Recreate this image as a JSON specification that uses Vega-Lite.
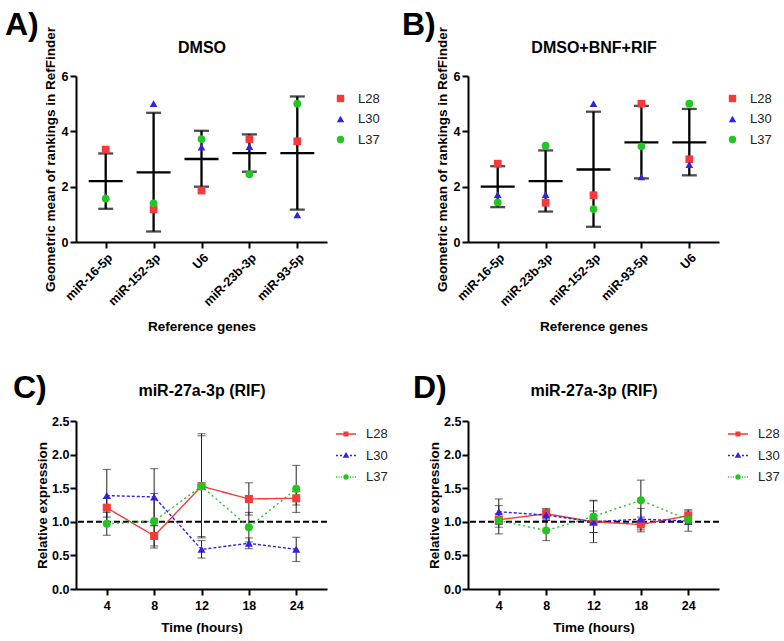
{
  "$schema": "https://vega.github.io/schema/vega-lite/v6.json",
  "padding": {"left": 5, "top": 8, "right": 0, "bottom": 0},
  "config": {
    "font": "Liberation Sans",
    "view": {"stroke": null},
    "axis": {"domainColor": "black", "domainWidth": 2, "tickColor": "black", "tickWidth": 2, "tickSize": 6, "labelColor": "black", "labelFont": "Liberation Sans", "labelFontWeight": "bold", "labelFontSize": 12.5, "labelPadding": 2, "titleColor": "black", "titleFont": "Liberation Sans", "titleFontWeight": "bold", "titleFontSize": 13.5, "grid": false, "labelOverlap": false},
    "legend": {"labelFont": "Liberation Sans", "labelFontSize": 13, "labelColor": "#222", "labelFontWeight": "normal"},
    "title": {"font": "Liberation Sans", "fontWeight": "bold", "fontSize": 32, "color": "black", "anchor": "start", "frame": "group"}
  },
  "datasets": {
    "a_sum": [
      {"gene": "miR-16-5p", "mean": 2.2, "lo": 1.2, "hi": 3.2},
      {"gene": "miR-152-3p", "mean": 2.52, "lo": 0.38, "hi": 4.67},
      {"gene": "U6", "mean": 3.0, "lo": 2.0, "hi": 4.02},
      {"gene": "miR-23b-3p", "mean": 3.21, "lo": 2.54, "hi": 3.89},
      {"gene": "miR-93-5p", "mean": 3.21, "lo": 1.17, "hi": 5.26}
    ],
    "a_pts": [
      {"gene": "miR-16-5p", "series": "L28", "value": 3.34},
      {"gene": "miR-16-5p", "series": "L30", "value": 1.65},
      {"gene": "miR-16-5p", "series": "L37", "value": 1.57},
      {"gene": "miR-152-3p", "series": "L28", "value": 1.18},
      {"gene": "miR-152-3p", "series": "L30", "value": 5.0},
      {"gene": "miR-152-3p", "series": "L37", "value": 1.4},
      {"gene": "U6", "series": "L28", "value": 1.86},
      {"gene": "U6", "series": "L30", "value": 3.43},
      {"gene": "U6", "series": "L37", "value": 3.72},
      {"gene": "miR-23b-3p", "series": "L28", "value": 3.72},
      {"gene": "miR-23b-3p", "series": "L30", "value": 3.45},
      {"gene": "miR-23b-3p", "series": "L37", "value": 2.45},
      {"gene": "miR-93-5p", "series": "L28", "value": 3.64},
      {"gene": "miR-93-5p", "series": "L30", "value": 0.98},
      {"gene": "miR-93-5p", "series": "L37", "value": 5.0}
    ],
    "b_sum": [
      {"gene": "miR-16-5p", "mean": 2.0, "lo": 1.26, "hi": 2.74},
      {"gene": "miR-23b-3p", "mean": 2.2, "lo": 1.1, "hi": 3.31},
      {"gene": "miR-152-3p", "mean": 2.62, "lo": 0.55, "hi": 4.71},
      {"gene": "miR-93-5p", "mean": 3.6, "lo": 2.3, "hi": 4.92},
      {"gene": "U6", "mean": 3.6, "lo": 2.41, "hi": 4.81}
    ],
    "b_pts": [
      {"gene": "miR-16-5p", "series": "L28", "value": 2.83},
      {"gene": "miR-16-5p", "series": "L30", "value": 1.71},
      {"gene": "miR-16-5p", "series": "L37", "value": 1.43},
      {"gene": "miR-23b-3p", "series": "L28", "value": 1.42},
      {"gene": "miR-23b-3p", "series": "L30", "value": 1.71},
      {"gene": "miR-23b-3p", "series": "L37", "value": 3.48},
      {"gene": "miR-152-3p", "series": "L28", "value": 1.69},
      {"gene": "miR-152-3p", "series": "L30", "value": 5.0},
      {"gene": "miR-152-3p", "series": "L37", "value": 1.19},
      {"gene": "miR-93-5p", "series": "L28", "value": 5.0},
      {"gene": "miR-93-5p", "series": "L30", "value": 2.35},
      {"gene": "miR-93-5p", "series": "L37", "value": 3.46},
      {"gene": "U6", "series": "L28", "value": 2.99},
      {"gene": "U6", "series": "L30", "value": 2.8},
      {"gene": "U6", "series": "L37", "value": 5.0}
    ],
    "c": [
      {"time": 4, "series": "L28", "value": 1.21, "lo": 1.07, "hi": 1.35},
      {"time": 4, "series": "L30", "value": 1.39, "lo": 1.0, "hi": 1.78},
      {"time": 4, "series": "L37", "value": 0.97, "lo": 0.8, "hi": 1.14},
      {"time": 8, "series": "L28", "value": 0.79, "lo": 0.64, "hi": 0.94},
      {"time": 8, "series": "L30", "value": 1.37, "lo": 0.95, "hi": 1.79},
      {"time": 8, "series": "L37", "value": 1.01, "lo": 0.61, "hi": 1.42},
      {"time": 12, "series": "L28", "value": 1.53, "lo": 0.76, "hi": 2.31},
      {"time": 12, "series": "L30", "value": 0.59, "lo": 0.46, "hi": 0.72},
      {"time": 12, "series": "L37", "value": 1.53, "lo": 0.78, "hi": 2.28},
      {"time": 18, "series": "L28", "value": 1.34, "lo": 1.1, "hi": 1.58},
      {"time": 18, "series": "L30", "value": 0.68, "lo": 0.6, "hi": 0.76},
      {"time": 18, "series": "L37", "value": 0.92, "lo": 0.7, "hi": 1.14},
      {"time": 24, "series": "L28", "value": 1.35, "lo": 1.25, "hi": 1.45},
      {"time": 24, "series": "L30", "value": 0.59, "lo": 0.41, "hi": 0.77},
      {"time": 24, "series": "L37", "value": 1.49, "lo": 1.14, "hi": 1.84}
    ],
    "d": [
      {"time": 4, "series": "L28", "value": 1.03, "lo": 0.82, "hi": 1.24},
      {"time": 4, "series": "L30", "value": 1.15, "lo": 0.96, "hi": 1.34},
      {"time": 4, "series": "L37", "value": 1.02, "lo": 0.92, "hi": 1.12},
      {"time": 8, "series": "L28", "value": 1.12, "lo": 1.04, "hi": 1.2},
      {"time": 8, "series": "L30", "value": 1.1, "lo": 1.02, "hi": 1.18},
      {"time": 8, "series": "L37", "value": 0.87, "lo": 0.72, "hi": 1.02},
      {"time": 12, "series": "L28", "value": 1.0, "lo": 0.69, "hi": 1.31},
      {"time": 12, "series": "L30", "value": 1.0, "lo": 0.84, "hi": 1.16},
      {"time": 12, "series": "L37", "value": 1.08, "lo": 0.84, "hi": 1.32},
      {"time": 18, "series": "L28", "value": 0.96, "lo": 0.85, "hi": 1.07},
      {"time": 18, "series": "L30", "value": 1.04, "lo": 0.88, "hi": 1.2},
      {"time": 18, "series": "L37", "value": 1.32, "lo": 1.02, "hi": 1.62},
      {"time": 24, "series": "L28", "value": 1.09, "lo": 1.0, "hi": 1.18},
      {"time": 24, "series": "L30", "value": 1.01, "lo": 0.86, "hi": 1.16},
      {"time": 24, "series": "L37", "value": 1.03, "lo": 0.96, "hi": 1.1}
    ]
  },
  "columns": 2,
  "spacing": {"row": 179, "column": 141},
  "bounds": "flush",
  "resolve": {"scale": {"color": "independent", "shape": "independent", "strokeDash": "independent", "fill": "independent", "stroke": "independent"}, "legend": {"color": "independent", "shape": "independent", "strokeDash": "independent", "fill": "independent", "stroke": "independent"}},
  "concat": [
    {
      "width": 251, "height": 166,
      "title": {"text": "A)", "dx": -71, "dy": 19},
      "layer": [
        {
          "data": {"name": "a_sum"},
          "mark": {"type": "tick", "color": "black", "size": 34, "thickness": 2.3, "opacity": 1},
          "encoding": {
            "x": {"field": "gene", "type": "nominal", "scale": {"type": "point", "padding": 0.62, "domain": ["miR-16-5p", "miR-152-3p", "U6", "miR-23b-3p", "miR-93-5p"]}, "axis": {"orient": "top", "title": "DMSO", "labels": false, "ticks": false, "domain": false, "titleFontSize": 16, "titlePadding": 23.5, "titleBaseline": "alphabetic"}},
            "y": {"field": "mean", "type": "quantitative", "scale": {"domain": [0, 6]}, "axis": {"title": "Geometric mean of rankings in RefFinder", "values": [0, 2, 4, 6], "titlePadding": 4, "labelOverlap": false}}
          }
        },
        {
          "layer": [
            {
              "data": {"name": "a_sum"},
              "mark": {"type": "rule", "color": "black", "strokeWidth": 2.3},
              "encoding": {
                "x": {"field": "gene", "type": "nominal", "scale": {"type": "point", "padding": 0.62, "domain": ["miR-16-5p", "miR-152-3p", "U6", "miR-23b-3p", "miR-93-5p"]}, "axis": {"orient": "bottom", "title": "Reference genes", "labelAngle": -45, "labelPadding": 3, "titlePadding": 12}},
                "y": {"field": "lo", "type": "quantitative", "scale": {"domain": [0, 6]}, "axis": {"title": "Geometric mean of rankings in RefFinder", "values": [0, 2, 4, 6], "titlePadding": 4, "labelOverlap": false}},
                "y2": {"field": "hi"}
              }
            },
            {
              "data": {"name": "a_sum"},
              "mark": {"type": "tick", "color": "black", "size": 15, "thickness": 2.3},
              "encoding": {
                "x": {"field": "gene", "type": "nominal"},
                "y": {"field": "lo", "type": "quantitative", "scale": {"domain": [0, 6]}, "axis": {"title": "Geometric mean of rankings in RefFinder", "values": [0, 2, 4, 6], "titlePadding": 4, "labelOverlap": false}}
              }
            },
            {
              "data": {"name": "a_sum"},
              "mark": {"type": "tick", "color": "black", "size": 15, "thickness": 2.3},
              "encoding": {
                "x": {"field": "gene", "type": "nominal"},
                "y": {"field": "hi", "type": "quantitative", "scale": {"domain": [0, 6]}, "axis": {"title": "Geometric mean of rankings in RefFinder", "values": [0, 2, 4, 6], "titlePadding": 4, "labelOverlap": false}}
              }
            },
            {
              "data": {"name": "a_pts"},
              "mark": {"type": "point", "filled": true, "opacity": 1, "size": 60},
              "encoding": {
                "x": {"field": "gene", "type": "nominal"},
                "y": {"field": "value", "type": "quantitative", "scale": {"domain": [0, 6]}, "axis": {"title": "Geometric mean of rankings in RefFinder", "values": [0, 2, 4, 6], "titlePadding": 4, "labelOverlap": false}},
                "color": {"field": "series", "type": "nominal", "scale": {"domain": ["L28", "L30", "L37"], "range": ["#f43a3a", "#3220e8", "#22c522"]}, "legend": {"title": null, "orient": "none", "legendX": 258, "legendY": 16, "symbolSize": 55, "symbolStrokeWidth": 0, "rowPadding": 6.5, "labelOffset": 11}},
                "shape": {"field": "series", "type": "nominal", "scale": {"domain": ["L28", "L30", "L37"], "range": ["square", "triangle-up", "circle"]}, "legend": {"title": null, "orient": "none", "legendX": 258, "legendY": 16, "symbolSize": 55, "symbolStrokeWidth": 0, "rowPadding": 6.5, "labelOffset": 11}}
              }
            }
          ]
        }
      ],
      "resolve": {"scale": {"x": "independent"}, "axis": {"x": "independent"}}
    },
    {
      "width": 251, "height": 166,
      "title": {"text": "B)", "dx": -66, "dy": 19},
      "layer": [
        {
          "data": {"name": "b_sum"},
          "mark": {"type": "tick", "color": "black", "size": 34, "thickness": 2.3, "opacity": 1},
          "encoding": {
            "x": {"field": "gene", "type": "nominal", "scale": {"type": "point", "padding": 0.62, "domain": ["miR-16-5p", "miR-23b-3p", "miR-152-3p", "miR-93-5p", "U6"]}, "axis": {"orient": "top", "title": "DMSO+BNF+RIF", "labels": false, "ticks": false, "domain": false, "titleFontSize": 16, "titlePadding": 23.5, "titleBaseline": "alphabetic"}},
            "y": {"field": "mean", "type": "quantitative", "scale": {"domain": [0, 6]}, "axis": {"title": "Geometric mean of rankings in RefFinder", "values": [0, 2, 4, 6], "titlePadding": 4, "labelOverlap": false}}
          }
        },
        {
          "layer": [
            {
              "data": {"name": "b_sum"},
              "mark": {"type": "rule", "color": "black", "strokeWidth": 2.3},
              "encoding": {
                "x": {"field": "gene", "type": "nominal", "scale": {"type": "point", "padding": 0.62, "domain": ["miR-16-5p", "miR-23b-3p", "miR-152-3p", "miR-93-5p", "U6"]}, "axis": {"orient": "bottom", "title": "Reference genes", "labelAngle": -45, "labelPadding": 3, "titlePadding": 12}},
                "y": {"field": "lo", "type": "quantitative", "scale": {"domain": [0, 6]}, "axis": {"title": "Geometric mean of rankings in RefFinder", "values": [0, 2, 4, 6], "titlePadding": 4, "labelOverlap": false}},
                "y2": {"field": "hi"}
              }
            },
            {
              "data": {"name": "b_sum"},
              "mark": {"type": "tick", "color": "black", "size": 15, "thickness": 2.3},
              "encoding": {
                "x": {"field": "gene", "type": "nominal"},
                "y": {"field": "lo", "type": "quantitative", "scale": {"domain": [0, 6]}, "axis": {"title": "Geometric mean of rankings in RefFinder", "values": [0, 2, 4, 6], "titlePadding": 4, "labelOverlap": false}}
              }
            },
            {
              "data": {"name": "b_sum"},
              "mark": {"type": "tick", "color": "black", "size": 15, "thickness": 2.3},
              "encoding": {
                "x": {"field": "gene", "type": "nominal"},
                "y": {"field": "hi", "type": "quantitative", "scale": {"domain": [0, 6]}, "axis": {"title": "Geometric mean of rankings in RefFinder", "values": [0, 2, 4, 6], "titlePadding": 4, "labelOverlap": false}}
              }
            },
            {
              "data": {"name": "b_pts"},
              "mark": {"type": "point", "filled": true, "opacity": 1, "size": 60},
              "encoding": {
                "x": {"field": "gene", "type": "nominal"},
                "y": {"field": "value", "type": "quantitative", "scale": {"domain": [0, 6]}, "axis": {"title": "Geometric mean of rankings in RefFinder", "values": [0, 2, 4, 6], "titlePadding": 4, "labelOverlap": false}},
                "color": {"field": "series", "type": "nominal", "scale": {"domain": ["L28", "L30", "L37"], "range": ["#f43a3a", "#3220e8", "#22c522"]}, "legend": {"title": null, "orient": "none", "legendX": 258, "legendY": 16, "symbolSize": 55, "symbolStrokeWidth": 0, "rowPadding": 6.5, "labelOffset": 11}},
                "shape": {"field": "series", "type": "nominal", "scale": {"domain": ["L28", "L30", "L37"], "range": ["square", "triangle-up", "circle"]}, "legend": {"title": null, "orient": "none", "legendX": 258, "legendY": 16, "symbolSize": 55, "symbolStrokeWidth": 0, "rowPadding": 6.5, "labelOffset": 11}}
              }
            }
          ]
        }
      ],
      "resolve": {"scale": {"x": "independent"}, "axis": {"x": "independent"}}
    },
    {
      "width": 251, "height": 168,
      "title": {"text": "C)", "dx": -63, "dy": 27},
      "layer": [
        {
          "data": {"name": "c"},
          "mark": {"type": "rule", "color": "#222222", "strokeWidth": 1},
          "encoding": {
            "x": {"field": "time", "type": "ordinal", "scale": {"type": "point", "padding": 0.65, "domain": [4, 8, 12, 18, 24]}, "axis": {"orient": "top", "title": "miR-27a-3p (RIF)", "labels": false, "ticks": false, "domain": false, "titleFontSize": 16, "titlePadding": 26, "titleBaseline": "alphabetic"}},
            "y": {"field": "lo", "type": "quantitative", "scale": {"domain": [0, 2.5]}, "axis": {"title": "Relative expression", "values": [0, 0.5, 1, 1.5, 2, 2.5], "format": ".1f", "labelPadding": 1, "titlePadding": 2, "labelOverlap": false}},
            "y2": {"field": "hi"}
          }
        },
        {
          "layer": [
            {
              "data": {"values": [{}]},
              "mark": {"type": "rule", "color": "black", "strokeWidth": 2, "strokeDash": [6, 3]},
              "encoding": {"y": {"datum": 1, "type": "quantitative", "scale": {"domain": [0, 2.5]}, "axis": {"title": "Relative expression", "values": [0, 0.5, 1, 1.5, 2, 2.5], "format": ".1f", "labelPadding": 1, "titlePadding": 2, "labelOverlap": false}}}
            },
            {
              "data": {"name": "c"},
              "mark": {"type": "tick", "color": "#222222", "size": 8, "thickness": 1},
              "encoding": {
                "x": {"field": "time", "type": "ordinal", "scale": {"type": "point", "padding": 0.65, "domain": [4, 8, 12, 18, 24]}, "axis": {"orient": "bottom", "title": "Time (hours)", "labelAngle": 0, "labelPadding": 4, "titlePadding": 9}},
                "y": {"field": "lo", "type": "quantitative", "scale": {"domain": [0, 2.5]}, "axis": {"title": "Relative expression", "values": [0, 0.5, 1, 1.5, 2, 2.5], "format": ".1f", "labelPadding": 1, "titlePadding": 2, "labelOverlap": false}}
              }
            },
            {
              "data": {"name": "c"},
              "mark": {"type": "tick", "color": "#222222", "size": 8, "thickness": 1},
              "encoding": {
                "x": {"field": "time", "type": "ordinal"},
                "y": {"field": "hi", "type": "quantitative", "scale": {"domain": [0, 2.5]}, "axis": {"title": "Relative expression", "values": [0, 0.5, 1, 1.5, 2, 2.5], "format": ".1f", "labelPadding": 1, "titlePadding": 2, "labelOverlap": false}}
              }
            },
            {
              "data": {"name": "c"},
              "mark": {"type": "line", "strokeWidth": 1.4},
              "encoding": {
                "x": {"field": "time", "type": "ordinal"},
                "y": {"field": "value", "type": "quantitative", "scale": {"domain": [0, 2.5]}, "axis": {"title": "Relative expression", "values": [0, 0.5, 1, 1.5, 2, 2.5], "format": ".1f", "labelPadding": 1, "titlePadding": 2, "labelOverlap": false}},
                "color": {"field": "series", "type": "nominal", "scale": {"domain": ["L28", "L30", "L37"], "range": ["#f43a3a", "#3220e8", "#22c522"]}, "legend": null},
                "strokeDash": {"field": "series", "type": "nominal", "scale": {"domain": ["L28", "L30", "L37"], "range": [[1, 0], [3, 2], [2, 3]]}, "legend": null}
              }
            },
            {
              "data": {"name": "c"},
              "mark": {"type": "point", "filled": true, "opacity": 1, "size": 65},
              "encoding": {
                "x": {"field": "time", "type": "ordinal"},
                "y": {"field": "value", "type": "quantitative", "scale": {"domain": [0, 2.5]}, "axis": {"title": "Relative expression", "values": [0, 0.5, 1, 1.5, 2, 2.5], "format": ".1f", "labelPadding": 1, "titlePadding": 2, "labelOverlap": false}},
                "color": {"field": "series", "type": "nominal", "scale": {"domain": ["L28", "L30", "L37"], "range": ["#f43a3a", "#3220e8", "#22c522"]}, "legend": null},
                "shape": {"field": "series", "type": "nominal", "scale": {"domain": ["L28", "L30", "L37"], "range": ["square", "triangle-up", "circle"]}, "legend": null}
              }
            },
            {
              "data": {"name": "c"},
              "transform": [{"filter": "false"}],
              "mark": {"type": "point", "filled": true, "opacity": 1},
              "encoding": {
                "x": {"field": "time", "type": "ordinal"},
                "y": {"field": "value", "type": "quantitative", "scale": {"domain": [0, 2.5]}, "axis": {"title": "Relative expression", "values": [0, 0.5, 1, 1.5, 2, 2.5], "format": ".1f", "labelPadding": 1, "titlePadding": 2, "labelOverlap": false}},
                "fill": {"field": "series", "type": "nominal", "scale": {"domain": ["L28", "L30", "L37"], "range": ["#f43a3a", "#3220e8", "#22c522"]}, "legend": {"title": null, "orient": "none", "legendX": 259, "legendY": 2, "symbolSize": 400, "symbolStrokeWidth": 1.4, "symbolOpacity": 1, "rowPadding": 3.5, "labelOffset": 9}},
                "stroke": {"field": "series", "type": "nominal", "scale": {"domain": ["L28", "L30", "L37"], "range": ["#f43a3a", "#3220e8", "#22c522"]}, "legend": {"title": null, "orient": "none", "legendX": 259, "legendY": 2, "symbolSize": 400, "symbolStrokeWidth": 1.4, "symbolOpacity": 1, "rowPadding": 3.5, "labelOffset": 9}},
                "shape": {"field": "series", "type": "nominal", "scale": {"domain": ["L28", "L30", "L37"], "range": ["M-1,0H1M-0.18,-0.18H0.18V0.18H-0.18Z", "M-1,0H-0.8M-0.6,0H-0.4M0.4,0H0.6M0.8,0H1M0,-0.22L0.21,0.15H-0.21Z", "M-1,0H-0.9M-0.75,0H-0.65M-0.5,0H-0.4M0.4,0H0.5M0.65,0H0.75M0.9,0H1M0.2,0A0.2,0.2,0,1,1,-0.2,0A0.2,0.2,0,1,1,0.2,0Z"]}, "legend": {"title": null, "orient": "none", "legendX": 259, "legendY": 2, "symbolSize": 400, "symbolStrokeWidth": 1.4, "symbolOpacity": 1, "rowPadding": 3.5, "labelOffset": 9}}
              }
            }
          ],
          "resolve": {"scale": {"shape": "independent", "fill": "independent", "stroke": "independent"}}
        }
      ],
      "resolve": {"scale": {"x": "independent"}, "axis": {"x": "independent"}}
    },
    {
      "width": 251, "height": 168,
      "title": {"text": "D)", "dx": -55, "dy": 27},
      "layer": [
        {
          "data": {"name": "d"},
          "mark": {"type": "rule", "color": "#222222", "strokeWidth": 1},
          "encoding": {
            "x": {"field": "time", "type": "ordinal", "scale": {"type": "point", "padding": 0.65, "domain": [4, 8, 12, 18, 24]}, "axis": {"orient": "top", "title": "miR-27a-3p (RIF)", "labels": false, "ticks": false, "domain": false, "titleFontSize": 16, "titlePadding": 26, "titleBaseline": "alphabetic"}},
            "y": {"field": "lo", "type": "quantitative", "scale": {"domain": [0, 2.5]}, "axis": {"title": "Relative expression", "values": [0, 0.5, 1, 1.5, 2, 2.5], "format": ".1f", "labelPadding": 1, "titlePadding": 2, "labelOverlap": false}},
            "y2": {"field": "hi"}
          }
        },
        {
          "layer": [
            {
              "data": {"values": [{}]},
              "mark": {"type": "rule", "color": "black", "strokeWidth": 2, "strokeDash": [6, 3]},
              "encoding": {"y": {"datum": 1, "type": "quantitative", "scale": {"domain": [0, 2.5]}, "axis": {"title": "Relative expression", "values": [0, 0.5, 1, 1.5, 2, 2.5], "format": ".1f", "labelPadding": 1, "titlePadding": 2, "labelOverlap": false}}}
            },
            {
              "data": {"name": "d"},
              "mark": {"type": "tick", "color": "#222222", "size": 8, "thickness": 1},
              "encoding": {
                "x": {"field": "time", "type": "ordinal", "scale": {"type": "point", "padding": 0.65, "domain": [4, 8, 12, 18, 24]}, "axis": {"orient": "bottom", "title": "Time (hours)", "labelAngle": 0, "labelPadding": 4, "titlePadding": 9}},
                "y": {"field": "lo", "type": "quantitative", "scale": {"domain": [0, 2.5]}, "axis": {"title": "Relative expression", "values": [0, 0.5, 1, 1.5, 2, 2.5], "format": ".1f", "labelPadding": 1, "titlePadding": 2, "labelOverlap": false}}
              }
            },
            {
              "data": {"name": "d"},
              "mark": {"type": "tick", "color": "#222222", "size": 8, "thickness": 1},
              "encoding": {
                "x": {"field": "time", "type": "ordinal"},
                "y": {"field": "hi", "type": "quantitative", "scale": {"domain": [0, 2.5]}, "axis": {"title": "Relative expression", "values": [0, 0.5, 1, 1.5, 2, 2.5], "format": ".1f", "labelPadding": 1, "titlePadding": 2, "labelOverlap": false}}
              }
            },
            {
              "data": {"name": "d"},
              "mark": {"type": "line", "strokeWidth": 1.4},
              "encoding": {
                "x": {"field": "time", "type": "ordinal"},
                "y": {"field": "value", "type": "quantitative", "scale": {"domain": [0, 2.5]}, "axis": {"title": "Relative expression", "values": [0, 0.5, 1, 1.5, 2, 2.5], "format": ".1f", "labelPadding": 1, "titlePadding": 2, "labelOverlap": false}},
                "color": {"field": "series", "type": "nominal", "scale": {"domain": ["L28", "L30", "L37"], "range": ["#f43a3a", "#3220e8", "#22c522"]}, "legend": null},
                "strokeDash": {"field": "series", "type": "nominal", "scale": {"domain": ["L28", "L30", "L37"], "range": [[1, 0], [3, 2], [2, 3]]}, "legend": null}
              }
            },
            {
              "data": {"name": "d"},
              "mark": {"type": "point", "filled": true, "opacity": 1, "size": 65},
              "encoding": {
                "x": {"field": "time", "type": "ordinal"},
                "y": {"field": "value", "type": "quantitative", "scale": {"domain": [0, 2.5]}, "axis": {"title": "Relative expression", "values": [0, 0.5, 1, 1.5, 2, 2.5], "format": ".1f", "labelPadding": 1, "titlePadding": 2, "labelOverlap": false}},
                "color": {"field": "series", "type": "nominal", "scale": {"domain": ["L28", "L30", "L37"], "range": ["#f43a3a", "#3220e8", "#22c522"]}, "legend": null},
                "shape": {"field": "series", "type": "nominal", "scale": {"domain": ["L28", "L30", "L37"], "range": ["square", "triangle-up", "circle"]}, "legend": null}
              }
            },
            {
              "data": {"name": "d"},
              "transform": [{"filter": "false"}],
              "mark": {"type": "point", "filled": true, "opacity": 1},
              "encoding": {
                "x": {"field": "time", "type": "ordinal"},
                "y": {"field": "value", "type": "quantitative", "scale": {"domain": [0, 2.5]}, "axis": {"title": "Relative expression", "values": [0, 0.5, 1, 1.5, 2, 2.5], "format": ".1f", "labelPadding": 1, "titlePadding": 2, "labelOverlap": false}},
                "fill": {"field": "series", "type": "nominal", "scale": {"domain": ["L28", "L30", "L37"], "range": ["#f43a3a", "#3220e8", "#22c522"]}, "legend": {"title": null, "orient": "none", "legendX": 259, "legendY": 2, "symbolSize": 400, "symbolStrokeWidth": 1.4, "symbolOpacity": 1, "rowPadding": 3.5, "labelOffset": 9}},
                "stroke": {"field": "series", "type": "nominal", "scale": {"domain": ["L28", "L30", "L37"], "range": ["#f43a3a", "#3220e8", "#22c522"]}, "legend": {"title": null, "orient": "none", "legendX": 259, "legendY": 2, "symbolSize": 400, "symbolStrokeWidth": 1.4, "symbolOpacity": 1, "rowPadding": 3.5, "labelOffset": 9}},
                "shape": {"field": "series", "type": "nominal", "scale": {"domain": ["L28", "L30", "L37"], "range": ["M-1,0H1M-0.18,-0.18H0.18V0.18H-0.18Z", "M-1,0H-0.8M-0.6,0H-0.4M0.4,0H0.6M0.8,0H1M0,-0.22L0.21,0.15H-0.21Z", "M-1,0H-0.9M-0.75,0H-0.65M-0.5,0H-0.4M0.4,0H0.5M0.65,0H0.75M0.9,0H1M0.2,0A0.2,0.2,0,1,1,-0.2,0A0.2,0.2,0,1,1,0.2,0Z"]}, "legend": {"title": null, "orient": "none", "legendX": 259, "legendY": 2, "symbolSize": 400, "symbolStrokeWidth": 1.4, "symbolOpacity": 1, "rowPadding": 3.5, "labelOffset": 9}}
              }
            }
          ],
          "resolve": {"scale": {"shape": "independent", "fill": "independent", "stroke": "independent"}}
        }
      ],
      "resolve": {"scale": {"x": "independent"}, "axis": {"x": "independent"}}
    }
  ]
}
